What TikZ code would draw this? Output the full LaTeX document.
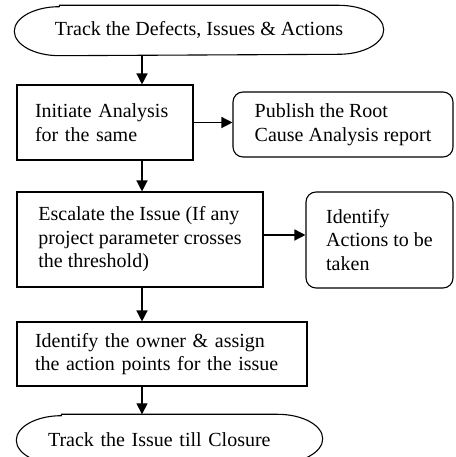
\documentclass[tikz,border=0pt]{standalone}
\usepackage{fontspec}
\setmainfont{Liberation Serif}
\usetikzlibrary{arrows.meta}

\begin{document}
\begin{tikzpicture}[x=1pt,y=1pt,->,>={Triangle[length=11pt,width=11pt]},line width=1.4pt,
    font=\fontsize{20}{23.5}\selectfont]
    \tikzstyle{task}=[draw,line width=1.1pt,align=left,inner sep=0pt]
    \tikzstyle{report}=[task,rounded corners=10pt]
    \tikzstyle{terminal}=[minimum height=49pt,inner sep=0pt,align=left]

    \useasboundingbox (0,0) rectangle (455,457);

    
    \node[terminal,minimum width=368pt] (start) at (199,426.5) {Track the Defects, Issues \& Actions};
    \node[task,text width=140pt,inner xsep=18pt,minimum height=75pt] (analyse) at (105,334.5) {Initiate Analysis\\for the same};
    \node[report,minimum width=220pt,minimum height=65pt] (publish) at (343,332.5) {Publish the Root\\Cause Analysis report};
    \node[task,minimum width=246pt,minimum height=95pt] (escalate) at (140,217.5) {Escalate the Issue (If any\\project parameter crosses\\the threshold)};
    \node[report,minimum width=147pt,minimum height=96pt] (actions) at (379.5,217) {Identify\\Actions to be\\taken};
    \node[task,text width=254pt,inner xsep=18pt,minimum height=64pt] (owner) at (162,103) {Identify the owner \& assign\\the action points for the issue};
    \node[terminal,text width=243pt,inner xsep=31pt] (finish) at (169.5,17.5) {Track the Issue till Closure};

    
    \foreach \n in {start,finish}
        \draw[-,line width=1.1pt] ([xshift=45pt]\n.north west) -- ([xshift=-45pt]\n.north east)
            arc[start angle=90,end angle=-90,x radius=45pt,y radius=24.5pt]
            -- ([xshift=45pt]\n.south west)
            arc[start angle=270,end angle=90,x radius=45pt,y radius=24.5pt] -- cycle;

    
    \coordinate (spine) at (142,0);
    \foreach \a/\b in {start/analyse,analyse/escalate,escalate/owner,owner/finish}
        \draw (spine |- \a.south) -- (spine |- \b.north);
    \draw (analyse.east) -- (analyse.east -| publish.west);
    \draw ([yshift=4.5pt]escalate.east) -- ([yshift=4.5pt]escalate.east -| actions.west);
\end{tikzpicture}
\end{document}
